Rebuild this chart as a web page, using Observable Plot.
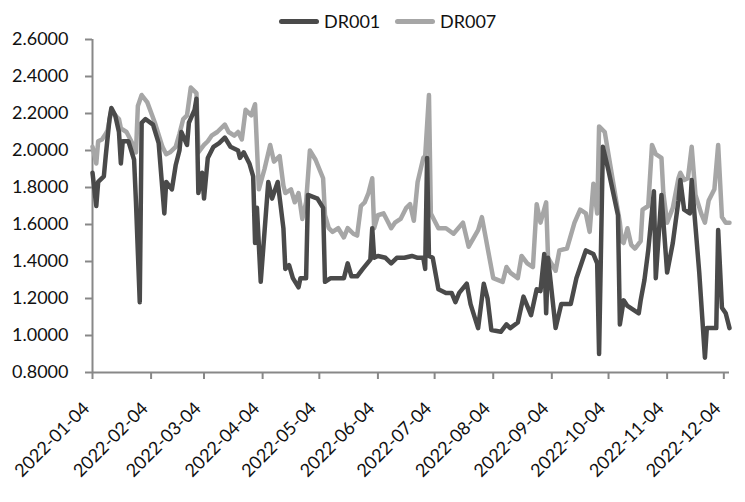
<!DOCTYPE html>
<html>
<head>
<meta charset="utf-8">
<script src="https://cdn.jsdelivr.net/npm/d3@7"></script>
<script src="https://cdn.jsdelivr.net/npm/@observablehq/plot@0.6"></script>
<style>
  html, body { margin: 0; padding: 0; background: #fff; }
  #wrap { width: 745px; height: 502px; position: relative; font-family: Lato, "Open Sans", sans-serif; }
  #legend { position: relative; width: 745px; height: 30px; }
  .sw { position: absolute; top: 19px; width: 40px; height: 5px; border-radius: 3px; }
  .lt { position: absolute; top: 10px; font-size: 18px; color: #111; line-height: 22px; }
  svg { overflow: visible; }
</style>
</head>
<body>
<div id="wrap">
  <div id="legend">
    <div class="sw" style="left:279px;background:#4a4a4a"></div>
    <div class="lt" style="left:324px">DR001</div>
    <div class="sw" style="left:395px;background:#a6a6a6"></div>
    <div class="lt" style="left:440px">DR007</div>
  </div>
  <div id="chart"></div>
</div>
<script>
const seriesNames = ["DR001", "DR007"];

const dr001Dates = [
  "2022-01-04","2022-01-06","2022-01-07","2022-01-10","2022-01-11","2022-01-13","2022-01-14","2022-01-16","2022-01-18","2022-01-19",
  "2022-01-20","2022-01-23","2022-01-26","2022-01-27","2022-01-29","2022-01-30","2022-02-01","2022-02-05","2022-02-08","2022-02-11",
  "2022-02-12","2022-02-15","2022-02-17","2022-02-19","2022-02-20","2022-02-23","2022-02-24","2022-02-27","2022-02-28","2022-03-01",
  "2022-03-03","2022-03-04","2022-03-06","2022-03-09","2022-03-12","2022-03-15","2022-03-18","2022-03-22","2022-03-23","2022-03-25",
  "2022-03-28","2022-03-30","2022-03-31","2022-04-01","2022-04-03","2022-04-07","2022-04-09","2022-04-12","2022-04-15","2022-04-16",
  "2022-04-18","2022-04-20","2022-04-23","2022-04-24","2022-04-27","2022-04-28","2022-05-03","2022-05-06","2022-05-07","2022-05-10",
  "2022-05-17","2022-05-19","2022-05-21","2022-05-24","2022-05-27","2022-05-31","2022-06-01","2022-06-02","2022-06-04","2022-06-08",
  "2022-06-11","2022-06-14","2022-06-18","2022-06-22","2022-06-25","2022-06-28","2022-06-29","2022-06-30","2022-07-01","2022-07-03",
  "2022-07-06","2022-07-10","2022-07-13","2022-07-15","2022-07-17","2022-07-21","2022-07-23","2022-07-27","2022-07-30","2022-08-01",
  "2022-08-03","2022-08-08","2022-08-11","2022-08-13","2022-08-17","2022-08-20","2022-08-24","2022-08-27","2022-08-29","2022-08-31",
  "2022-09-01","2022-09-02","2022-09-06","2022-09-09","2022-09-14","2022-09-17","2022-09-22","2022-09-26","2022-09-28","2022-09-29",
  "2022-10-01","2022-10-04","2022-10-09","2022-10-10","2022-10-12","2022-10-14","2022-10-17","2022-10-20","2022-10-21","2022-10-23",
  "2022-10-25","2022-10-28","2022-10-29","2022-11-01","2022-11-04","2022-11-07","2022-11-10","2022-11-11","2022-11-13","2022-11-16",
  "2022-11-17","2022-11-19","2022-11-21","2022-11-24","2022-11-25","2022-11-27","2022-11-30","2022-12-01","2022-12-03","2022-12-05",
  "2022-12-07"
];
const dr001Values = [
  1.88,1.70,1.83,1.86,1.97,2.17,2.23,2.19,2.10,1.93,
  2.05,2.05,1.95,1.72,1.18,2.15,2.17,2.14,2.04,1.66,
  1.83,1.79,1.92,2.00,2.10,2.03,2.15,2.22,2.28,1.77,
  1.88,1.74,1.96,2.02,2.04,2.07,2.02,2.00,1.96,1.99,
  1.93,1.86,1.50,1.69,1.29,1.83,1.74,1.83,1.58,1.36,
  1.38,1.31,1.26,1.31,1.31,1.76,1.74,1.69,1.29,1.31,
  1.31,1.39,1.32,1.32,1.36,1.41,1.58,1.42,1.43,1.42,
  1.39,1.42,1.42,1.43,1.42,1.42,1.36,1.96,1.43,1.42,
  1.25,1.23,1.23,1.18,1.23,1.28,1.17,1.04,1.28,1.20,
  1.03,1.02,1.06,1.04,1.07,1.21,1.11,1.25,1.24,1.44,
  1.12,1.42,1.04,1.17,1.17,1.31,1.46,1.44,1.39,0.90,
  2.02,1.89,1.65,1.06,1.19,1.16,1.14,1.12,1.19,1.30,
  1.46,1.78,1.31,1.76,1.34,1.50,1.73,1.84,1.68,1.66,
  1.84,1.59,1.34,0.88,1.04,1.04,1.04,1.57,1.15,1.12,
  1.04
];

const dr007Dates = [
  "2022-01-04","2022-01-06","2022-01-07","2022-01-09","2022-01-11","2022-01-12","2022-01-14","2022-01-15","2022-01-18","2022-01-19",
  "2022-01-22","2022-01-25","2022-01-27","2022-01-28","2022-01-30","2022-02-02","2022-02-06","2022-02-10","2022-02-12","2022-02-14",
  "2022-02-17","2022-02-19","2022-02-21","2022-02-23","2022-02-25","2022-02-28","2022-03-01","2022-03-04","2022-03-06","2022-03-08",
  "2022-03-11","2022-03-15","2022-03-17","2022-03-20","2022-03-22","2022-03-24","2022-03-26","2022-03-29","2022-03-31","2022-04-02",
  "2022-04-05","2022-04-08","2022-04-10","2022-04-13","2022-04-15","2022-04-16","2022-04-19","2022-04-21","2022-04-23","2022-04-25",
  "2022-04-27","2022-04-29","2022-05-02","2022-05-06","2022-05-07","2022-05-09","2022-05-11","2022-05-14","2022-05-17","2022-05-19",
  "2022-05-22","2022-05-24","2022-05-26","2022-05-28","2022-05-30","2022-06-01","2022-06-02","2022-06-04","2022-06-07","2022-06-09",
  "2022-06-11","2022-06-13","2022-06-16","2022-06-19","2022-06-21","2022-06-23","2022-06-25","2022-06-28","2022-06-29","2022-07-01",
  "2022-07-02","2022-07-06","2022-07-10","2022-07-14","2022-07-19","2022-07-22","2022-07-27","2022-07-29","2022-07-31","2022-08-04",
  "2022-08-09","2022-08-11","2022-08-13","2022-08-17","2022-08-19","2022-08-22","2022-08-25","2022-08-27","2022-08-29","2022-09-01",
  "2022-09-02","2022-09-06","2022-09-08","2022-09-12","2022-09-16","2022-09-19","2022-09-22","2022-09-24","2022-09-26","2022-09-28",
  "2022-09-29","2022-10-02","2022-10-10","2022-10-11","2022-10-12","2022-10-14","2022-10-16","2022-10-18","2022-10-21","2022-10-22",
  "2022-10-25","2022-10-27","2022-10-29","2022-11-01","2022-11-02","2022-11-04","2022-11-07","2022-11-10","2022-11-11","2022-11-13",
  "2022-11-15","2022-11-17","2022-11-19","2022-11-22","2022-11-24","2022-11-26","2022-11-29","2022-12-01","2022-12-03","2022-12-05",
  "2022-12-07"
];
const dr007Values = [
  2.02,1.93,2.05,2.06,2.09,2.11,2.22,2.20,2.17,2.12,
  2.10,2.04,1.99,2.24,2.30,2.26,2.15,2.02,1.98,1.99,
  2.02,2.09,2.17,2.19,2.34,2.31,1.99,2.03,2.05,2.08,
  2.10,2.14,2.10,2.08,2.10,2.06,2.22,2.19,2.25,1.79,
  1.90,2.03,1.94,1.97,1.81,1.77,1.79,1.72,1.77,1.63,
  1.72,2.00,1.95,1.85,1.65,1.58,1.56,1.58,1.53,1.58,
  1.55,1.54,1.70,1.72,1.77,1.85,1.58,1.65,1.66,1.62,
  1.58,1.61,1.63,1.69,1.71,1.62,1.83,1.96,1.97,2.30,
  1.66,1.58,1.58,1.55,1.61,1.48,1.57,1.64,1.53,1.31,
  1.29,1.37,1.34,1.31,1.43,1.39,1.37,1.71,1.61,1.72,
  1.42,1.35,1.46,1.47,1.61,1.68,1.66,1.56,1.82,1.66,
  2.13,2.10,1.61,1.51,1.50,1.58,1.49,1.47,1.51,1.68,
  1.70,2.03,1.98,1.96,1.77,1.61,1.69,1.85,1.88,1.84,
  1.85,2.02,1.76,1.66,1.61,1.73,1.79,2.03,1.64,1.61,
  1.61
];

const xTickLabels = ["2022-01-04","2022-02-04","2022-03-04","2022-04-04","2022-05-04","2022-06-04",
  "2022-07-04","2022-08-04","2022-09-04","2022-10-04","2022-11-04","2022-12-04"];
const yTicks = [0.8, 1.0, 1.2, 1.4, 1.6, 1.8, 2.0, 2.2, 2.4, 2.6];
const xDomain = ["2022-01-04", "2022-12-07"];

const rows = [
  ...dr007Dates.map((d, i) => ({date: new Date(d), value: dr007Values[i], series: seriesNames[1]})),
  ...dr001Dates.map((d, i) => ({date: new Date(d), value: dr001Values[i], series: seriesNames[0]}))
];
const xTicks = xTickLabels.map(d => new Date(d));
const axisColor = "#888";

const chart = Plot.plot({
  width: 745,
  height: 472,
  marginLeft: 92,
  marginRight: 16,
  marginTop: 9,
  marginBottom: 130,
  style: {fontFamily: "Lato, 'Open Sans', sans-serif", fontSize: "18px", color: "#111", background: "#fff"},
  x: {type: "utc", domain: xDomain.map(d => new Date(d))},
  y: {domain: [0.8, 2.6]},
  color: {domain: seriesNames, range: ["#4a4a4a", "#a6a6a6"]},
  marks: [
    Plot.ruleY([0.8], {stroke: axisColor, strokeWidth: 2}),
    Plot.ruleX([new Date(xDomain[0])], {stroke: axisColor, strokeWidth: 2}),
    Plot.axisY({ticks: yTicks, tickFormat: d3.format(".4f"), tickSize: 7, tickPadding: 17, stroke: axisColor, strokeWidth: 2, fill: "#111", label: null}),
    Plot.axisX({ticks: xTicks, tickSize: 7, stroke: axisColor, strokeWidth: 2, tickFormat: () => "", label: null}),
    Plot.axisX({ticks: xTicks, tickFormat: d3.utcFormat("%Y-%m-%d"), tickSize: 0, tickPadding: 33, tickRotate: -45, fontSize: 18, dx: -6, fill: "#111", label: null}),
    Plot.line(rows, {x: "date", y: "value", z: "series", stroke: "series", strokeWidth: 4.5, strokeLinejoin: "round", strokeLinecap: "round"})
  ]
});
document.getElementById("chart").appendChild(chart);
</script>
</body>
</html>
